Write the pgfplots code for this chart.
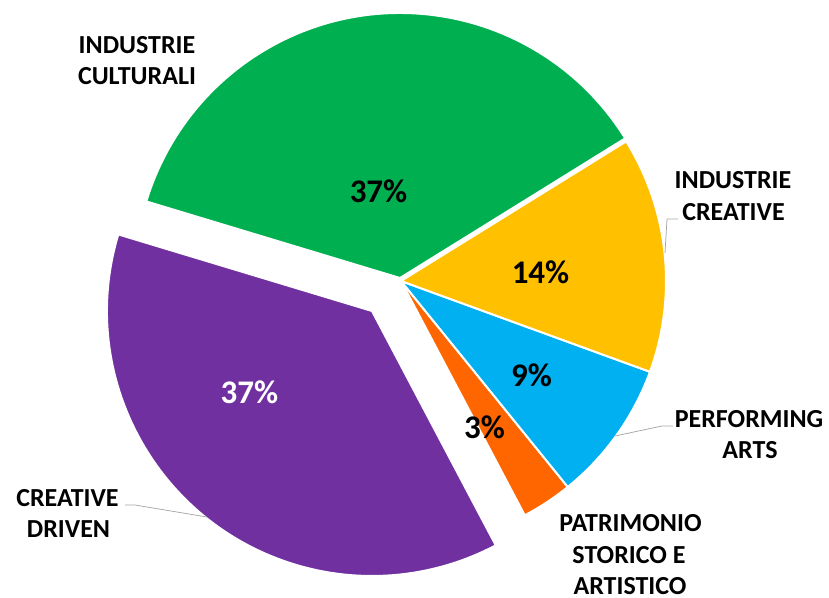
\documentclass[border=0pt]{standalone}
\usepackage{pgfplots}
\pgfplotsset{compat=1.18}
\usepackage{fontspec}
\setmainfont{Carlito}
\definecolor{cGreen}{HTML}{00B050}
\definecolor{cYellow}{HTML}{FFC000}
\definecolor{cBlue}{HTML}{00B0F0}
\definecolor{cOrange}{HTML}{FF6600}
\definecolor{cPurple}{HTML}{7030A0}
\definecolor{cLead}{HTML}{A6A6A6}
% slice: centre x, centre y (pixels, y downwards), start angle, percent, colour
\newcommand{\slice}[5]{%
  \filldraw[fill=#5,draw=white,line width=2pt,line join=round]
    (axis cs:#1,#2) -- ++(#3:265pt) arc[start angle=#3, delta angle={#4*3.6}, radius=265pt] -- cycle;}
\newcommand{\lab}[3]{\node[anchor=base,inner sep=0pt,font=\bfseries\fontsize{26}{30}\selectfont] at (axis cs:#1,#2) {#3};}
\newcommand{\pct}[4]{\node[anchor=base,inner sep=0pt,text=#4,font=\bfseries\fontsize{33}{38}\selectfont] at (axis cs:#1,#2) {#3};}
\begin{document}
\begin{tikzpicture}
\begin{axis}[
  name=ax,
  x=1pt, y=1pt, y dir=reverse,
  xmin=0, xmax=829, ymin=0, ymax=597,
  hide axis, scale only axis, clip=false,
]
% data (percent of total), drawn counter-clockwise
\slice{400}{278}{31.8}{36.5}{cGreen}    % INDUSTRIE CULTURALI
\slice{372}{311}{163.2}{37.4}{cPurple}  % CREATIVE DRIVEN
\slice{401}{281}{-62.16}{3.1}{cOrange}  % PATRIMONIO STORICO E ARTISTICO
\slice{401}{281}{-51.0}{8.6}{cBlue}     % PERFORMING ARTS
\slice{401}{281}{-20.04}{14.4}{cYellow} % INDUSTRIE CREATIVE
% leader lines
\draw[cLead,line width=0.75pt] (axis cs:678,219) -- (axis cs:667,219) -- (axis cs:665,253);
\draw[cLead,line width=0.75pt] (axis cs:673,426) -- (axis cs:662,426) -- (axis cs:615,436);
\draw[cLead,line width=0.75pt] (axis cs:125,505) -- (axis cs:135,505) -- (axis cs:207,517);
% percentage labels
\pct{378.5}{202}{37\%}{black}
\pct{540.5}{283}{14\%}{black}
\pct{531.5}{386}{9\%}{black}
\pct{484.5}{438}{3\%}{black}
\pct{249.5}{403}{37\%}{white}
% category labels
\lab{137}{53}{INDUSTRIE}
\lab{137}{84}{CULTURALI}
\lab{733}{188}{INDUSTRIE}
\lab{733.5}{220}{CREATIVE}
\lab{749}{427}{PERFORMING}
\lab{750}{458}{ARTS}
\lab{630.5}{531}{PATRIMONIO}
\lab{629}{563}{STORICO E}
\lab{630}{594}{ARTISTICO}
\lab{67.5}{506}{CREATIVE}
\lab{68.5}{537}{DRIVEN}
\end{axis}
\pgfresetboundingbox
\path[use as bounding box] (ax.south west) rectangle (ax.north east);
\end{tikzpicture}
\end{document}
